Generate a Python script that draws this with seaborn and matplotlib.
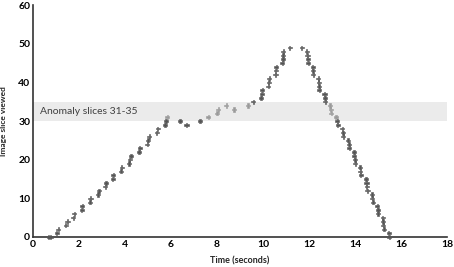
import matplotlib
matplotlib.use("Agg")
import matplotlib.pyplot as plt
import seaborn as sns
import pandas as pd

# time (s) at which each image slice was viewed
time_s = [0.68, 0.76, 1.03, 1.10, 1.42, 1.50, 1.75, 1.80, 2.12, 2.14,
          2.48, 2.50, 2.83, 2.87, 3.14, 3.17, 3.46, 3.49, 3.83, 3.86,
          4.17, 4.20, 4.26, 4.61, 4.64, 4.97, 5.00, 5.06, 5.38, 5.42,
          5.74, 5.78, 5.84, 6.39, 6.67, 7.26, 7.62, 8.00, 8.06, 8.40,
          8.74, 9.35, 9.58, 9.91, 9.94, 9.97, 10.23, 10.25, 10.27, 10.54,
          10.55, 10.58, 10.84, 10.86, 10.87, 10.88, 11.16, 11.68, 11.90, 11.93,
          11.94, 11.97, 12.16, 12.17, 12.19, 12.40, 12.42, 12.43, 12.45, 12.67,
          12.70, 12.71, 12.91, 12.94, 12.97, 13.17, 13.23, 13.25, 13.45, 13.47,
          13.49, 13.70, 13.74, 13.75, 13.96, 13.97, 14.00, 14.01, 14.22, 14.23,
          14.25, 14.47, 14.50, 14.51, 14.54, 14.73, 14.75, 14.78, 14.97, 14.99,
          15.00, 15.20, 15.22, 15.23, 15.26, 15.46, 15.49]
slice_no = [0, 0, 1, 2, 3, 4, 5, 6, 7, 8,
            9, 10, 11, 12, 13, 14, 15, 16, 17, 18,
            19, 20, 21, 22, 23, 24, 25, 26, 27, 28,
            29, 30, 31, 30, 29, 30, 31, 32, 33, 34,
            33, 34, 35, 36, 37, 38, 39, 40, 41, 42,
            43, 44, 45, 46, 47, 48, 49, 49, 48, 47,
            46, 45, 44, 43, 42, 41, 40, 39, 38, 37,
            36, 35, 34, 33, 32, 31, 30, 29, 28, 27,
            26, 25, 24, 23, 22, 21, 20, 19, 18, 17,
            16, 15, 14, 13, 12, 11, 10, 9, 8, 7,
            6, 5, 4, 3, 2, 1, 0]

anomaly_lo, anomaly_hi = 30, 35
anomaly_label = "Anomaly slices 31-35"
x_ticks = [0, 2, 4, 6, 8, 10, 12, 14, 16, 18]
y_ticks = [0, 10, 20, 30, 40, 50, 60]

df = pd.DataFrame({"time": time_s, "slice": slice_no})
df["zone"] = ["in" if 31 <= s <= 34 else "out" for s in df["slice"]]
colors = {"out": "#555555", "in": "#9a9a9a"}

sns.set_style("white")
plt.rcParams["font.family"] = ["Lato", "DejaVu Sans"]

fig = plt.figure(figsize=(4.54, 2.67), dpi=100)
ax = fig.add_axes([0.0727, 0.1124, 0.912, 0.8686])

# ---- anomaly band ----
ax.axhspan(anomaly_lo, anomaly_hi, color="#ebebeb", zorder=0, lw=0)
ax.text(0.3, (anomaly_lo + anomaly_hi) / 2, anomaly_label, fontsize=7.5,
        color="#404040", va="center", ha="left")

# ---- points ----
sns.scatterplot(data=df, x="time", y="slice", hue="zone", palette=colors,
                marker="P", s=9, linewidth=0.4,
                edgecolor=[colors[z] for z in df["zone"]],
                legend=False, ax=ax, zorder=3, clip_on=False)

ax.set_xlim(0, 18)
ax.set_ylim(0, 60)
ax.set_xticks(x_ticks)
ax.set_yticks(y_ticks)
ax.tick_params(length=0, labelsize=7.5, pad=2, colors="#000000")
for lab in ax.get_xticklabels() + ax.get_yticklabels():
    lab.set_fontweight("bold")
ax.set_xlabel("Time (seconds)", fontsize=6.5, fontweight="bold")
ax.set_ylabel("Image slice viewed", fontsize=6, fontweight="bold")
ax.xaxis.set_label_coords(0.5, -0.082)
ax.yaxis.set_label_coords(-0.062, 0.5)

sns.despine(ax=ax)
for side in ["left", "bottom"]:
    ax.spines[side].set_color("#333333")
    ax.spines[side].set_linewidth(1.2)

fig.savefig("out.png", dpi=100)
plt.close(fig)
